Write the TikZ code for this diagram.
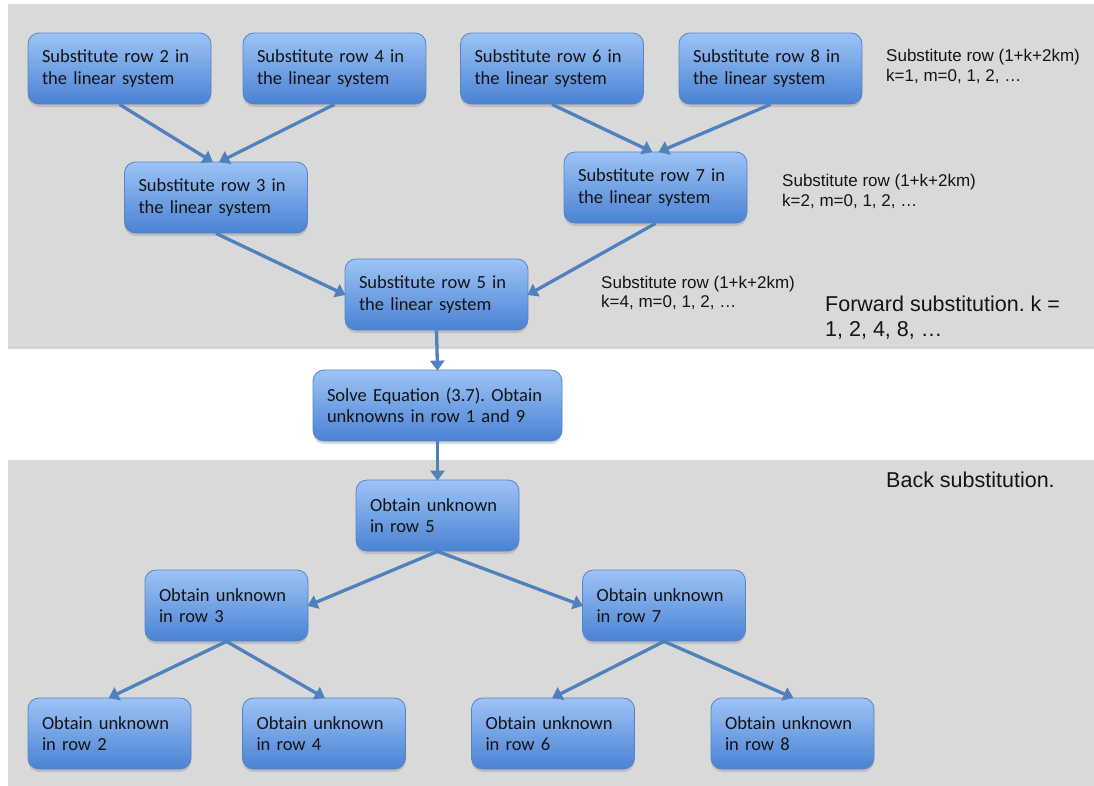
\documentclass[tikz,border=0pt]{standalone}
\usepackage{fontspec}
\setmainfont{Carlito}
\newfontfamily\notefont{Liberation Sans}
\usetikzlibrary{arrows.meta,shadows,calc}
\frenchspacing

\definecolor{panelgray}{HTML}{D9D9D9}
\definecolor{boxtop}{HTML}{9DC3F6}
\definecolor{boxbottom}{HTML}{4A82D3}
\definecolor{boxline}{HTML}{5584C6}
\definecolor{flow}{HTML}{4F81BD}
\definecolor{ink}{HTML}{141414}

\tikzset{
  panel/.style={fill=panelgray, draw=none,
    drop shadow={shadow xshift=0pt, shadow yshift=-2.5pt, opacity=0.35}},
  stepbox/.style={rectangle, rounded corners=11pt, draw=boxline, line width=0.8pt,
    top color=boxtop, bottom color=boxbottom, text=ink,
    drop shadow={shadow xshift=0pt, shadow yshift=-3pt, opacity=0.3},
    font=\fontsize{18.5}{21.5}\selectfont, align=left,
    inner xsep=14pt, inner ysep=0pt, minimum height=71pt},
  subbox/.style={stepbox, minimum width=183pt, text width=155pt},
  getbox/.style={stepbox, minimum width=163pt, text width=135pt},
  solvebox/.style={stepbox, minimum width=249pt, text width=221pt},
  % multi-line notes are anchored on the baseline of their last line
  note/.style={font=\notefont\fontsize{17}{19.5}\selectfont, align=left,
    anchor=base west, inner sep=0pt, text=ink},
  bignote/.style={font=\notefont\fontsize{21.5}{25}\selectfont, align=left,
    anchor=base west, inner sep=0pt, text=ink},
  link/.style={draw=flow, line width=3.3pt,
    -{Triangle[width=14pt,length=10pt]}, shorten >=-1pt}
}

\begin{document}
\begin{tikzpicture}[x=1pt,y=-1pt]
\useasboundingbox (0,0) rectangle (1094,785);

% grey backgrounds of the two phases
\path[panel] (8,4) rectangle (1104,346);
\path[panel] (8,460) rectangle (1104,795);

% forward substitution
\node[subbox] (r2) at (119.5,68.5) {Substitute row 2 in\\the linear system};
\node[subbox] (r4) at (334.5,68.5) {Substitute row 4 in\\the linear system};
\node[subbox] (r6) at (552,68.5) {Substitute row 6 in\\the linear system};
\node[subbox] (r8) at (770.5,68.5) {Substitute row 8 in\\the linear system};
\node[subbox] (r3) at (216,197.5) {Substitute row 3 in\\the linear system};
\node[subbox] (r7) at (655.5,187.5) {Substitute row 7 in\\the linear system};
\node[subbox] (r5) at (436.5,294.5) {Substitute row 5 in\\the linear system};

% reduced system
\node[solvebox] (solve) at (437.5,405.5) {Solve Equation (3.7). Obtain\\unknowns in row 1 and 9};

% back substitution
\node[getbox] (u5) at (437.5,515.5) {Obtain unknown\\in row 5};
\node[getbox] (u3) at (226.5,605.5) {Obtain unknown\\in row 3};
\node[getbox] (u7) at (664,605.5) {Obtain unknown\\in row 7};
\node[getbox] (u2) at (109.5,733.5) {Obtain unknown\\in row 2};
\node[getbox] (u4) at (324,733.5) {Obtain unknown\\in row 4};
\node[getbox] (u6) at (553,733.5) {Obtain unknown\\in row 6};
\node[getbox] (u8) at (792.5,733.5) {Obtain unknown\\in row 8};

% notes
\node[note] (k1) at (886,81) {Substitute row (1+k+2km)\\k=1, m=0, 1, 2, …};
\node[note] (k2) at (782,206) {Substitute row (1+k+2km)\\k=2, m=0, 1, 2, …};
\node[note] (k4) at (601,307.5) {Substitute row (1+k+2km)\\k=4, m=0, 1, 2, …};
\node[bignote] (fwd) at (825,336.5) {Forward substitution. k =\\1, 2, 4, 8, …};
\node[bignote] (bwd) at (886,487) {Back substitution.};

% connectors
\draw[link] (r2.south) -- ([xshift=-4pt]r3.north);
\draw[link] (r4.south) -- ([xshift=4pt]r3.north);
\draw[link] (r6.south) -- ([xshift=-4pt]r7.north);
\draw[link] (r8.south) -- ([xshift=4pt]r7.north);
\draw[link] (r3.south) -- (r5.west);
\draw[link] (r7.south) -- (r5.east);
\draw[link] (r5.south) -- (solve.north);
\draw[link] (solve.south) -- (u5.north);
\draw[link] (u5.south) -- (u3.east);
\draw[link] (u5.south) -- (u7.west);
\draw[link] (u3.south) -- (u2.north);
\draw[link] (u3.south) -- (u4.north);
\draw[link] (u7.south) -- (u6.north);
\draw[link] (u7.south) -- (u8.north);
\end{tikzpicture}
\end{document}
